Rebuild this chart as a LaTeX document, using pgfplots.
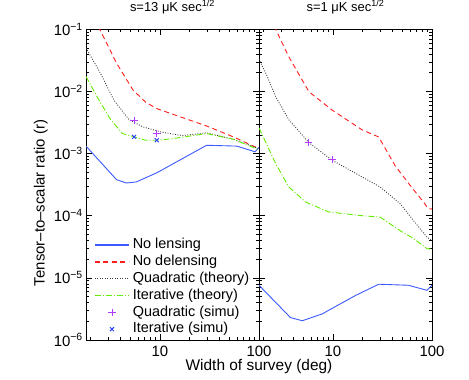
\documentclass[border=0pt]{standalone}
\usepackage{fontspec}
\setmainfont{Liberation Sans}
\usepackage{pgfplots}
\pgfplotsset{compat=1.18}

\definecolor{cblue}{RGB}{60,90,255}
\definecolor{cred}{RGB}{255,30,30}
\definecolor{cgray}{RGB}{60,60,60}
\definecolor{cgreen}{RGB}{100,235,0}
\definecolor{cpurple}{RGB}{180,60,255}
\definecolor{cxblue}{RGB}{40,60,255}

\tikzset{
  nolens/.style={color=cblue, solid, line width=0.9bp, mark=none},
  nodel/.style={color=cred, dash pattern=on 5bp off 3.5bp, line width=0.9bp, mark=none},
  quad/.style={color=cgray, dash pattern=on 0.9bp off 1.6bp, line width=0.9bp, mark=none},
  iter/.style={color=cgreen, dash pattern=on 6bp off 2bp on 1bp off 2bp, line width=0.9bp, mark=none},
  quads/.style={only marks, mark=+, mark size=3.8bp, color=cpurple, mark options={solid, line width=0.9bp}},
  iters/.style={only marks, mark=x, mark size=2.8bp, color=cxblue, mark options={solid, line width=0.9bp}},
}

\pgfplotsset{
  every axis/.append style={
    scale only axis,
    width=173bp, height=310.7bp,
    xmin=1.8, xmax=100, ymin=1e-6, ymax=1e-1,
    xtick={10,100}, xticklabels={10,100},
    minor xtick={2,3,4,5,6,7,8,9,20,30,40,50,60,70,80,90},
    ytick={1e-6,1e-5,1e-4,1e-3,1e-2,1e-1},
    minor ytick={2e-6,3e-6,4e-6,5e-6,6e-6,7e-6,8e-6,9e-6,
                 2e-5,3e-5,4e-5,5e-5,6e-5,7e-5,8e-5,9e-5,
                 2e-4,3e-4,4e-4,5e-4,6e-4,7e-4,8e-4,9e-4,
                 2e-3,3e-3,4e-3,5e-3,6e-3,7e-3,8e-3,9e-3,
                 2e-2,3e-2,4e-2,5e-2,6e-2,7e-2,8e-2,9e-2},
    tick align=inside,
    major tick length=6bp, minor tick length=3bp,
    tick style={black, line width=0.5bp},
    axis line style={line width=0.8bp},
    ticklabel style={font=\fontsize{15}{15}\selectfont},
    xticklabel style={inner sep=2bp, yshift=-3.5bp},
    yticklabel style={inner sep=1.5bp, xshift=-1.5bp},
    title style={at={(0.5,1)}, anchor=base, yshift=12bp, font=\fontsize{13}{13}\selectfont},
  },
}

\begin{document}
\begin{tikzpicture}
\useasboundingbox (0,0) rectangle (469bp,380bp);

% left panel: s = 13 muK sqrt(sec)
\begin{loglogaxis}[at={(86bp,40bp)}, anchor=south west,
  title={s=13 μK sec\textsuperscript{1/2}},
  yticklabels={10\textsuperscript{−6},10\textsuperscript{−5},10\textsuperscript{−4},10\textsuperscript{−3},10\textsuperscript{−2},10\textsuperscript{−1}},
  legend style={at={(0.047,0.333)}, anchor=north west, draw=none, fill=none, inner sep=0pt,
    font=\fontsize{14.5}{14.5}\selectfont, row sep=0pt, column sep=1.5bp,
    nodes={text height=10.5bp, text depth=3bp, inner sep=1.65bp}},
  legend cell align=left,
  every legend image post/.style={line width=1.3bp},
  legend image code/.code={\draw[mark repeat=2,mark phase=2,#1] plot coordinates {(0bp,0bp) (17bp,0bp) (34bp,0bp)};},
]
\addplot[nolens] coordinates {
  (1.8,1.32e-3) (3.66,3.8e-4) (4.6,3.36e-4) (5.8,3.5e-4) (9.3,4.9e-4)
  (29.6,1.36e-3) (59.6,1.32e-3) (91,1.07e-3) (100,1.25e-3)};
\addplot[nodel] coordinates {
  (1.8,0.25) (2.48,0.1) (3.66,0.0285) (5.37,0.0105) (7.2,6.7e-3) (9.3,5.3e-3)
  (13.5,4.3e-3) (29.6,2.78e-3) (55,1.86e-3) (100,1.2e-3)};
\addplot[quad] coordinates {
  (1.8,0.05) (2.5,0.02) (3.45,7.2e-3) (4.9,3.5e-3) (6.7,2.7e-3) (10.6,2.2e-3)
  (16.9,1.95e-3) (29.6,2.16e-3) (55,1.7e-3) (100,1.2e-3)};
\addplot[iter] coordinates {
  (1.8,0.0174) (2.44,7.2e-3) (3.2,3.5e-3) (4.2,2.1e-3) (5.5,1.86e-3) (7.2,1.64e-3)
  (9.5,1.64e-3) (13.4,1.74e-3) (29.6,2.1e-3) (55,1.7e-3) (100,1.15e-3)};
\addplot[quads] coordinates {(5.5,3.4e-3) (9.3,2.1e-3)};
\addplot[iters] coordinates {(5.5,1.86e-3) (9.3,1.64e-3)};
\legend{No lensing, No delensing, Quadratic (theory), Iterative (theory), Quadratic (simu), Iterative (simu)}
\end{loglogaxis}

% right panel: s = 1 muK sqrt(sec)
\begin{loglogaxis}[at={(259bp,40bp)}, anchor=south west,
  title={s=1 μK sec\textsuperscript{1/2}},
  yticklabels={},
]
\addplot[nolens] coordinates {
  (1.8,7.6e-6) (3.73,2.3e-6) (4.92,2.04e-6) (7.8,2.63e-6) (16.9,5.2e-6)
  (29,7.9e-6) (58,7.6e-6) (89,6.3e-6) (100,7.6e-6)};
\addplot[nodel] coordinates {
  (1.8,0.35) (2.65,0.1) (3.6,0.036) (5.74,9.9e-3) (9.86,5e-3) (19.8,2.4e-3)
  (29,1.85e-3) (42.7,6.3e-4) (60,3.1e-4) (82,1.66e-4) (92,1.29e-4) (100,1.29e-4)};
\addplot[quad] coordinates {
  (1.8,0.033) (2.19,0.0172) (2.65,8.2e-3) (3.6,3.5e-3) (5.74,1.5e-3) (9.86,7.8e-4)
  (19.8,4.2e-4) (30,2.9e-4) (48,1.55e-4) (65.3,8.3e-5) (89,4.5e-5) (100,4e-5)};
\addplot[iter] coordinates {
  (1.8,2.6e-3) (2.2,1.3e-3) (2.65,6.9e-4) (3.6,2.9e-4) (5.31,1.66e-4) (9.1,1.15e-4)
  (19.8,1.0e-4) (30,9.5e-5) (48,5.7e-5) (65,4.3e-5) (89,2.95e-5) (100,2.9e-5)};
\addplot[quads] coordinates {(5.7,1.5e-3) (9.8,8e-4)};
\end{loglogaxis}

\node[font=\fontsize{15.5}{15.5}\selectfont, anchor=base] at (259bp,9.3bp) {Width of survey (deg)};
\node[font=\fontsize{15}{15}\selectfont, rotate=90] at (40.7bp,177bp) {Tensor–to–scalar ratio (r)};
\end{tikzpicture}
\end{document}
